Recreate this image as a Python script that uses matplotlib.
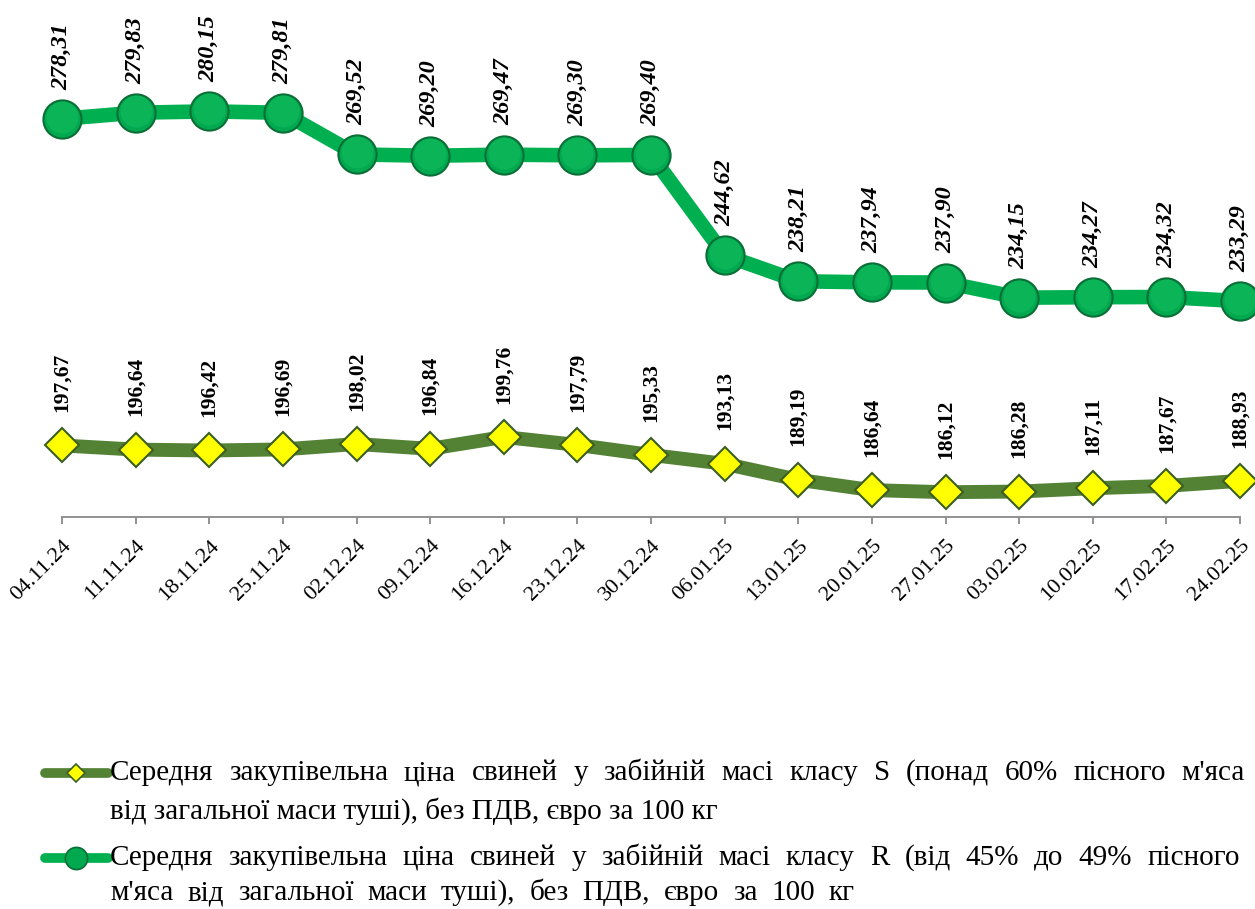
import matplotlib
matplotlib.use("Agg")
import matplotlib.pyplot as plt
from matplotlib.lines import Line2D
from matplotlib.transforms import offset_copy

dates = ['04.11.24', '11.11.24', '18.11.24', '25.11.24', '02.12.24', '09.12.24',
         '16.12.24', '23.12.24', '30.12.24', '06.01.25', '13.01.25', '20.01.25',
         '27.01.25', '03.02.25', '10.02.25', '17.02.25', '24.02.25']
price_S = [197.67, 196.64, 196.42, 196.69, 198.02, 196.84, 199.76, 197.79, 195.33,
           193.13, 189.19, 186.64, 186.12, 186.28, 187.11, 187.67, 188.93]
price_R = [278.31, 279.83, 280.15, 279.81, 269.52, 269.20, 269.47, 269.30, 269.40,
           244.62, 238.21, 237.94, 237.90, 234.15, 234.27, 234.32, 233.29]

legend_S = ["Середня закупівельна ціна свиней у забійній масі класу S (понад 60% пісного м'яса",
            "від загальної маси туші), без ПДВ, євро за 100 кг"]
legend_R = ["Середня закупівельна ціна свиней у забійній масі класу R (від 45% до 49% пісного",
            "м'яса від загальної маси туші), без ПДВ, євро за 100 кг"]

W, H = 1255, 909
SERIF = 'Liberation Serif'
GREEN = '#00A94F'
GREEN_LIGHT = '#16BE60'
GREEN_LINE = '#00B050'
GREEN_EDGE = '#0A6E36'
OLIVE = '#548235'
YELLOW = '#FFFF00'
OLIVE_EDGE = '#3B5E22'

fig = plt.figure(figsize=(W / 100, H / 100), dpi=100)
ax_left, ax_right, ax_bottom_px, ax_top_px = 62, 1240, 517, 31
ax = fig.add_axes([ax_left / W, 1 - ax_bottom_px / H,
                   (ax_right - ax_left) / W, (ax_bottom_px - ax_top_px) / H])

x = list(range(len(dates)))
ax.plot(x, price_S, color=OLIVE, lw=10, solid_capstyle='butt', zorder=2, clip_on=False)
ax.plot(x, price_S, ls='none', marker='D', ms=17.8, mfc=YELLOW, mec=OLIVE_EDGE,
        mew=1.5, zorder=3, clip_on=False)
ax.plot(x, price_R, color=GREEN_LINE, lw=10.5, solid_capstyle='butt', zorder=2, clip_on=False)
ax.plot(x, price_R, ls='none', marker='o', ms=27.5, mfc=GREEN, mec=GREEN_EDGE,
        mew=1.5, zorder=3, clip_on=False)
hl = offset_copy(ax.transData, fig=fig, x=0, y=2, units='dots')
ax.plot(x, price_R, ls='none', marker='o', ms=23, mfc=GREEN_LIGHT, mec='none',
        alpha=0.55, zorder=4, clip_on=False, transform=hl)

for xi, v in zip(x, price_R):
    ax.annotate(f"{v:.2f}".replace('.', ','), (xi, v), xytext=(0, 21),
                textcoords='offset points', rotation=90, ha='center', va='bottom',
                family=SERIF, fontsize=17.5, fontweight='bold', fontstyle='italic',
                annotation_clip=False)
for xi, v in zip(x, price_S):
    ax.annotate(f"{v:.2f}".replace('.', ','), (xi, v), xytext=(0, 24),
                textcoords='offset points', rotation=90, ha='center', va='bottom',
                family=SERIF, fontsize=15.5, fontweight='bold', annotation_clip=False)

ax.set_xlim(0, len(dates) - 1)
ax.set_ylim(180, 300)
for s in ['top', 'right', 'left']:
    ax.spines[s].set_visible(False)
ax.spines['bottom'].set_color('#898989')
ax.spines['bottom'].set_linewidth(1.3)
ax.set_yticks([])
ax.set_xticks(x)
ax.set_xticklabels(dates, rotation=45, ha='right', va='top', rotation_mode='anchor',
                   family=SERIF, fontsize=16)
ax.tick_params(axis='x', length=5, width=1.3, color='#898989', pad=9)

# legend (manual, justified lines)
renderer = fig.canvas.get_renderer()
LEG_FS = 21


def put_line(text, x0_px, y_px, x1_px=None):
    kw = dict(family=SERIF, fontsize=LEG_FS, va='center')
    if x1_px is None:
        fig.text(x0_px / W, 1 - y_px / H, text, **kw)
        return
    words = text.split(' ')
    widths = []
    for w in words:
        t = fig.text(0, 0, w, **kw)
        widths.append(t.get_window_extent(renderer).width)
        t.remove()
    gap = (x1_px - x0_px - sum(widths)) / (len(words) - 1)
    xx = x0_px
    for w, wd in zip(words, widths):
        fig.text(xx / W, 1 - y_px / H, w, **kw)
        xx += wd + gap


def handle(y_px, color, lw, marker, ms, mfc, mec):
    fig.add_artist(Line2D([45 / W, 108 / W], [1 - y_px / H] * 2, color=color, lw=lw,
                          transform=fig.transFigure, solid_capstyle='round'))
    fig.add_artist(Line2D([76 / W], [1 - y_px / H], ls='none', marker=marker, ms=ms,
                          mfc=mfc, mec=mec, mew=1.2, transform=fig.transFigure))


handle(773, OLIVE, 7, 'D', 9.5, YELLOW, OLIVE_EDGE)
put_line(legend_S[0], 110, 773, 1245)
put_line(legend_S[1], 110, 811)
handle(858, GREEN_LINE, 7, 'o', 16, GREEN, GREEN_EDGE)
put_line(legend_R[0], 110, 858, 1240)
put_line(legend_R[1], 110, 893, 855)

fig.savefig('out.png', dpi=100)
